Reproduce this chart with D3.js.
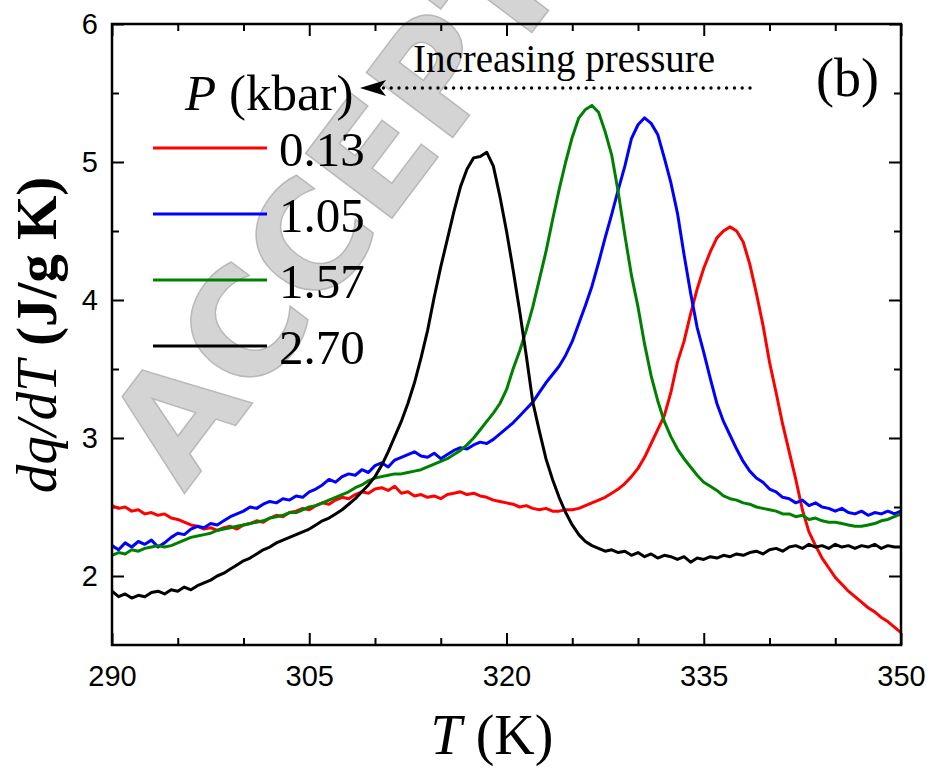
<!DOCTYPE html>
<html>
<head>
<meta charset="utf-8">
<script src="https://cdn.jsdelivr.net/npm/d3@7"></script>
<style>
  body { margin: 0; background: #fff; }
  svg { display: block; }
</style>
</head>
<body>
<svg id="chart" width="928" height="769"></svg>
<script>
// temperatura (K), paso de 0.5 K
var temps = [290,290.5,291,291.5,292,292.5,293,293.5,294,294.5,295,295.5,296,296.5,297,297.5,298,298.5,299,299.5,
  300,300.5,301,301.5,302,302.5,303,303.5,304,304.5,305,305.5,306,306.5,307,307.5,308,308.5,309,309.5,
  310,310.5,311,311.5,312,312.5,313,313.5,314,314.5,315,315.5,316,316.5,317,317.5,318,318.5,319,319.5,
  320,320.5,321,321.5,322,322.5,323,323.5,324,324.5,325,325.5,326,326.5,327,327.5,328,328.5,329,329.5,
  330,330.5,331,331.5,332,332.5,333,333.5,334,334.5,335,335.5,336,336.5,337,337.5,338,338.5,339,339.5,
  340,340.5,341,341.5,342,342.5,343,343.5,344,344.5,345,345.5,346,346.5,347,347.5,348,348.5,349,349.5,350];

// dq/dT (J/g K) para cada presion
var p013 = [2.51,2.49,2.50,2.47,2.48,2.45,2.46,2.44,2.45,2.42,2.41,2.39,2.37,2.36,2.34,2.35,2.33,2.35,2.36,2.34,
  2.37,2.38,2.40,2.39,2.42,2.44,2.43,2.46,2.47,2.49,2.48,2.51,2.53,2.52,2.55,2.57,2.56,2.59,2.61,2.60,
  2.63,2.64,2.62,2.65,2.60,2.61,2.58,2.59,2.57,2.58,2.56,2.59,2.60,2.61,2.59,2.60,2.58,2.57,2.55,2.54,
  2.53,2.52,2.50,2.51,2.49,2.48,2.49,2.47,2.47,2.48,2.48,2.49,2.51,2.53,2.55,2.57,2.60,2.63,2.67,2.72,
  2.78,2.86,2.96,3.06,3.16,3.33,3.55,3.70,3.90,4.08,4.23,4.35,4.45,4.50,4.53,4.50,4.42,4.26,4.05,3.82,
  3.55,3.33,3.10,2.90,2.70,2.48,2.32,2.22,2.13,2.06,1.99,1.94,1.89,1.85,1.81,1.77,1.74,1.70,1.67,1.63,1.59];

var p105 = [2.22,2.19,2.24,2.21,2.25,2.23,2.26,2.21,2.24,2.28,2.31,2.30,2.34,2.36,2.35,2.38,2.37,2.40,2.43,2.45,
  2.47,2.50,2.49,2.52,2.54,2.53,2.56,2.55,2.58,2.57,2.61,2.63,2.66,2.70,2.68,2.72,2.74,2.73,2.77,2.75,
  2.80,2.82,2.79,2.84,2.86,2.88,2.90,2.87,2.86,2.89,2.85,2.88,2.91,2.93,2.92,2.95,2.97,2.96,2.99,3.03,
  3.07,3.11,3.16,3.21,3.26,3.33,3.40,3.46,3.52,3.60,3.70,3.83,3.96,4.10,4.27,4.45,4.62,4.80,4.97,5.17,
  5.27,5.32,5.28,5.20,5.03,4.85,4.63,4.33,4.05,3.80,3.62,3.43,3.25,3.12,3.02,2.92,2.83,2.76,2.71,2.68,
  2.63,2.61,2.57,2.56,2.53,2.55,2.51,2.53,2.50,2.49,2.47,2.49,2.46,2.45,2.47,2.44,2.46,2.45,2.47,2.45,2.47];

var p157 = [2.15,2.17,2.16,2.19,2.18,2.20,2.21,2.22,2.21,2.22,2.24,2.26,2.28,2.29,2.30,2.31,2.33,2.34,2.35,2.36,
  2.37,2.38,2.39,2.40,2.42,2.43,2.44,2.46,2.46,2.48,2.50,2.51,2.53,2.55,2.57,2.59,2.61,2.64,2.66,2.69,
  2.71,2.72,2.73,2.74,2.74,2.75,2.76,2.77,2.79,2.81,2.83,2.85,2.88,2.91,2.95,3.00,3.06,3.12,3.18,3.25,
  3.35,3.50,3.63,3.78,3.95,4.15,4.35,4.58,4.80,5.00,5.18,5.32,5.38,5.41,5.36,5.22,5.05,4.78,4.47,4.18,
  3.95,3.68,3.45,3.27,3.12,3.01,2.92,2.85,2.79,2.73,2.68,2.65,2.62,2.58,2.56,2.55,2.53,2.52,2.50,2.49,
  2.48,2.47,2.45,2.45,2.43,2.44,2.41,2.42,2.40,2.39,2.39,2.38,2.37,2.36,2.36,2.37,2.38,2.40,2.41,2.43,2.45];

var p270 = [1.89,1.85,1.87,1.84,1.86,1.85,1.88,1.89,1.87,1.90,1.89,1.92,1.90,1.93,1.95,1.97,2.00,2.02,2.05,2.08,
  2.11,2.13,2.16,2.19,2.21,2.24,2.26,2.28,2.30,2.32,2.34,2.37,2.40,2.42,2.45,2.48,2.52,2.56,2.61,2.66,
  2.72,2.80,2.90,3.01,3.12,3.25,3.40,3.58,3.78,4.02,4.24,4.44,4.64,4.82,4.95,5.03,5.04,5.07,4.97,4.75,
  4.50,4.22,3.92,3.60,3.26,3.05,2.85,2.70,2.57,2.46,2.37,2.30,2.25,2.22,2.20,2.18,2.19,2.17,2.18,2.15,
  2.17,2.14,2.16,2.13,2.15,2.14,2.12,2.14,2.10,2.13,2.12,2.14,2.13,2.15,2.14,2.16,2.15,2.17,2.18,2.16,
  2.19,2.20,2.18,2.21,2.22,2.20,2.23,2.21,2.22,2.20,2.23,2.21,2.22,2.20,2.22,2.21,2.23,2.20,2.22,2.21,2.21];

var pressures = ["0.13","1.05","1.57","2.70"];
var seriesValues = [p013, p105, p157, p270];
var colors = ["#ff0000","#0000ff","#008000","#000000"];

var xMajor = [290,305,320,335,350];
var xMinor = [295,300,310,315,325,330,340,345];
var yMajor = [2,3,4,5,6];
var yMinor = [2.5,3.5,4.5,5.5];

var svg = d3.select("#chart");
var plotL = 112, plotR = 901, plotT = 24, plotB = 645;

var x = d3.scaleLinear().domain([290,350]).range([plotL,plotR]);
var y = d3.scaleLinear().domain([1.5,6]).range([plotB,plotT]);

/****** marca de agua ******/
svg.append("text")
  .attr("transform", "translate(184,494) rotate(-53)")
  .style("font-family", "'DejaVu Sans', sans-serif")
  .style("font-size", "148px")
  .style("font-weight", "bold")
  .attr("fill", "#d4d4d4")
  .attr("stroke", "#b8b8b8")
  .attr("stroke-width", 1.5)
  .text("ACCEPTED");

/****** ejes ******/
var tickFont = "'Liberation Sans', Arial, sans-serif";

function styleAxis(g){
  g.select(".domain").remove();
  g.selectAll("line").attr("stroke","#000").attr("stroke-width",2);
  g.selectAll("text").style("font-family",tickFont).style("font-size","29px").attr("fill","#000");
}

svg.append("g").attr("transform","translate(0,"+plotB+")")
  .call(d3.axisBottom(x).tickValues(xMajor).tickSize(-12).tickSizeOuter(0).tickPadding(20).tickFormat(d3.format("d")))
  .call(styleAxis);
svg.append("g").attr("transform","translate(0,"+plotB+")")
  .call(d3.axisBottom(x).tickValues(xMinor).tickSize(-7).tickSizeOuter(0).tickFormat(""))
  .call(styleAxis);
svg.append("g").attr("transform","translate(0,"+plotT+")")
  .call(d3.axisTop(x).tickValues(xMajor).tickSize(-12).tickSizeOuter(0).tickFormat(""))
  .call(styleAxis);
svg.append("g").attr("transform","translate(0,"+plotT+")")
  .call(d3.axisTop(x).tickValues(xMinor).tickSize(-7).tickSizeOuter(0).tickFormat(""))
  .call(styleAxis);

svg.append("g").attr("transform","translate("+plotL+",0)")
  .call(d3.axisLeft(y).tickValues(yMajor).tickSize(-12).tickSizeOuter(0).tickPadding(14).tickFormat(d3.format("d")))
  .call(styleAxis);
svg.append("g").attr("transform","translate("+plotL+",0)")
  .call(d3.axisLeft(y).tickValues(yMinor).tickSize(-7).tickSizeOuter(0).tickFormat(""))
  .call(styleAxis);
svg.append("g").attr("transform","translate("+plotR+",0)")
  .call(d3.axisRight(y).tickValues(yMajor).tickSize(-12).tickSizeOuter(0).tickFormat(""))
  .call(styleAxis);
svg.append("g").attr("transform","translate("+plotR+",0)")
  .call(d3.axisRight(y).tickValues(yMinor).tickSize(-7).tickSizeOuter(0).tickFormat(""))
  .call(styleAxis);

/****** curvas ******/
var line = d3.line()
  .x(function(d){ return x(d[0]); })
  .y(function(d){ return y(d[1]); });

var curves = svg.append("g");
seriesValues.forEach(function(vals, i){
  var pts = temps.map(function(t, j){ return [t, vals[j]]; });
  curves.append("path")
    .datum(pts)
    .attr("fill","none")
    .attr("stroke",colors[i])
    .attr("stroke-width",3)
    .attr("stroke-linejoin","round")
    .attr("d",line);
});

// marco
svg.append("rect")
  .attr("x",plotL).attr("y",plotT)
  .attr("width",plotR-plotL).attr("height",plotB-plotT)
  .attr("fill","none").attr("stroke","#000").attr("stroke-width",2.5);

/****** leyenda ******/
var serif = "'Liberation Serif', 'Times New Roman', serif";
var legendTitle = svg.append("text")
  .attr("x",185).attr("y",110)
  .style("font-family",serif).style("font-size","51px");
legendTitle.append("tspan").style("font-style","italic").text("P");
legendTitle.append("tspan").text(" (kbar)");

var legend = svg.selectAll(".legend")
  .data(pressures)
  .enter().append("g")
  .attr("class","legend")
  .attr("transform",function(d,i){ return "translate(0,"+(148 + i*66)+")"; });
legend.append("line")
  .attr("x1",153).attr("x2",267).attr("y1",0).attr("y2",0)
  .attr("stroke",function(d,i){ return colors[i]; })
  .attr("stroke-width",3);
legend.append("text")
  .attr("x",279).attr("y",18)
  .style("font-family",serif).style("font-size","49px")
  .text(function(d){ return d; });

/****** anotaciones ******/
svg.append("text")
  .attr("x",413).attr("y",72)
  .style("font-family",serif).style("font-size","39px")
  .text("Increasing pressure");

svg.append("line")
  .attr("x1",750).attr("x2",380).attr("y1",88).attr("y2",88)
  .attr("stroke","#000").attr("stroke-width",3.4)
  .attr("stroke-linecap","round")
  .attr("stroke-dasharray","0 7.8");
svg.append("path")
  .attr("d","M360,88 L386,80 L380,88 L386,96 Z")
  .attr("fill","#000");

svg.append("text")
  .attr("x",816).attr("y",96)
  .style("font-family",serif).style("font-size","54px")
  .text("(b)");

/****** titulos de ejes ******/
var xTitle = svg.append("text")
  .attr("x",492).attr("y",754)
  .attr("text-anchor","middle")
  .style("font-family",serif).style("font-size","56px");
xTitle.append("tspan").style("font-style","italic").text("T");
xTitle.append("tspan").text(" (K)");

var yTitle = svg.append("text")
  .attr("transform","translate(56,335) rotate(-90)")
  .attr("text-anchor","middle")
  .style("font-family",serif).style("font-size","57px");
yTitle.append("tspan").style("font-style","italic").text("dq/dT");
yTitle.append("tspan").style("font-weight","bold").text("  (J/g K)");
</script>
</body>
</html>
